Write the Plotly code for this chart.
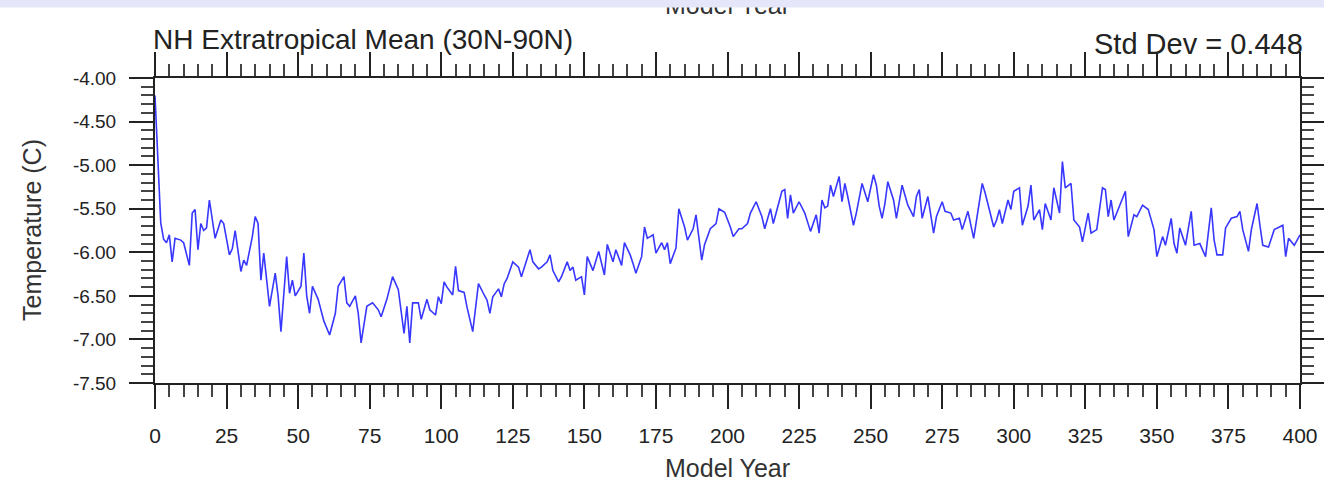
import plotly.graph_objects as go

# ---- data ----
years_a = [0, 1, 2, 3, 4, 5, 6, 7, 9, 10,
           11, 12, 13, 14, 15, 16, 17, 18, 19, 20,
           21, 23, 24, 26, 27, 28, 30, 31, 32, 34,
           35, 36, 37, 38, 39, 40, 42, 43, 44, 46,
           47, 48, 49, 51, 52, 53, 54, 55, 57, 59,
           61, 63, 64, 66, 67, 68, 70, 71, 72, 74,
           76, 78, 79, 81, 83, 85, 87, 88, 89, 90,
           92, 93, 95, 96, 98, 99]
temps_a = [-4.20, -4.86, -5.66, -5.85, -5.89, -5.80, -6.11, -5.84, -5.86, -5.89,
           -6.01, -6.15, -5.55, -5.51, -5.97, -5.67, -5.75, -5.72, -5.40, -5.63,
           -5.84, -5.63, -5.67, -6.03, -5.96, -5.75, -6.22, -6.09, -6.15, -5.82,
           -5.59, -5.67, -6.32, -6.01, -6.32, -6.62, -6.24, -6.50, -6.91, -6.05,
           -6.47, -6.32, -6.50, -6.39, -6.01, -6.50, -6.70, -6.39, -6.54, -6.79,
           -6.95, -6.70, -6.39, -6.28, -6.58, -6.62, -6.50, -6.70, -7.04, -6.62,
           -6.58, -6.66, -6.74, -6.54, -6.28, -6.43, -6.93, -6.62, -7.04, -6.58,
           -6.58, -6.77, -6.54, -6.66, -6.72, -6.51]

years_b = [100, 101, 102, 104, 105, 106, 108, 109, 111, 113,
           115, 116, 117, 118, 120, 121, 122, 123, 125, 127,
           128, 129, 131, 132, 134, 135, 137, 138, 139, 141,
           142, 144, 145, 146, 147, 149, 150, 151, 153, 155,
           156, 157, 158, 160, 161, 163, 164, 166, 167, 168,
           170, 171, 172, 174, 175, 177, 178, 179, 180, 182,
           183, 185, 186, 188, 189, 191, 192, 194, 196, 197,
           199]
temps_b = [-6.59, -6.34, -6.40, -6.49, -6.16, -6.44, -6.46, -6.63, -6.91, -6.36,
           -6.49, -6.55, -6.70, -6.51, -6.42, -6.51, -6.36, -6.30, -6.11, -6.17,
           -6.28, -6.17, -5.97, -6.11, -6.19, -6.17, -6.11, -6.03, -6.21, -6.34,
           -6.28, -6.11, -6.21, -6.17, -6.32, -6.28, -6.49, -6.05, -6.21, -5.99,
           -6.13, -6.26, -5.91, -6.11, -5.97, -6.15, -5.89, -6.03, -6.13, -6.24,
           -6.05, -5.71, -5.84, -5.80, -6.01, -5.89, -5.97, -5.89, -6.13, -5.95,
           -5.50, -5.71, -5.86, -5.73, -5.57, -6.09, -5.91, -5.73, -5.67, -5.50,
           -5.54]

years_c = [201, 202, 204, 205, 207, 208, 210, 212, 213, 215,
           216, 219, 220, 221, 222, 223, 225, 227, 229, 231,
           232, 233, 234, 235, 236, 237, 239, 240, 241, 242,
           244, 245, 247, 249, 251, 252, 253, 254, 255, 256,
           258, 259, 260, 261, 263, 265, 266, 267, 268, 270,
           272, 273, 275, 276, 278, 279, 281, 282, 284, 286,
           287, 289, 290, 293, 294, 295, 296, 298, 299]
temps_c = [-5.71, -5.82, -5.73, -5.73, -5.67, -5.55, -5.42, -5.59, -5.73, -5.50,
           -5.67, -5.30, -5.28, -5.61, -5.34, -5.55, -5.42, -5.55, -5.76, -5.57,
           -5.78, -5.40, -5.49, -5.47, -5.23, -5.36, -5.13, -5.42, -5.21, -5.36,
           -5.69, -5.55, -5.21, -5.42, -5.11, -5.23, -5.47, -5.61, -5.44, -5.19,
           -5.40, -5.61, -5.44, -5.23, -5.46, -5.59, -5.36, -5.28, -5.61, -5.36,
           -5.78, -5.59, -5.42, -5.53, -5.55, -5.63, -5.61, -5.74, -5.53, -5.84,
           -5.63, -5.21, -5.32, -5.71, -5.63, -5.51, -5.67, -5.40, -5.51]

years_d = [300, 302, 303, 305, 306, 307, 309, 310, 311, 313,
           314, 316, 317, 318, 320, 321, 323, 324, 326, 327,
           329, 331, 332, 333, 334, 335, 337, 339, 340, 342,
           343, 345, 347, 349, 350, 352, 353, 355, 356, 357,
           358, 360, 362, 363, 365, 367, 369, 370, 371, 373,
           374, 376, 378, 379, 380, 382, 383, 385, 386, 387,
           389, 391, 394, 395, 396, 398, 400]
temps_d = [-5.30, -5.26, -5.69, -5.47, -5.23, -5.63, -5.51, -5.74, -5.44, -5.63,
           -5.26, -5.55, -4.96, -5.26, -5.21, -5.63, -5.71, -5.88, -5.55, -5.78,
           -5.74, -5.26, -5.28, -5.59, -5.40, -5.63, -5.46, -5.30, -5.82, -5.57,
           -5.59, -5.46, -5.51, -5.74, -6.05, -5.82, -5.92, -5.61, -5.90, -6.01,
           -5.72, -5.92, -5.53, -5.92, -5.90, -6.05, -5.49, -5.86, -6.03, -6.03,
           -5.72, -5.61, -5.59, -5.53, -5.74, -5.99, -5.74, -5.44, -5.69, -5.92,
           -5.94, -5.74, -5.69, -6.05, -5.84, -5.92, -5.80]

x_tick_vals = [0, 25, 50, 75, 100, 125, 150, 175, 200, 225, 250, 275, 300, 325, 350, 375, 400]
x_tick_text = [str(v) for v in x_tick_vals]
y_tick_vals = [-4.0, -4.5, -5.0, -5.5, -6.0, -6.5, -7.0, -7.5]
y_tick_text = ["-4.00", "-4.50", "-5.00", "-5.50", "-6.00", "-6.50", "-7.00", "-7.50"]

title_text = "NH Extratropical Mean (30N-90N)"
stddev_text = "Std Dev = 0.448"
x_title = "Model Year"
y_title = "Temperature (C)"

years = years_a + years_b + years_c + years_d
temps = temps_a + temps_b + temps_c + temps_d
assert len(years) == len(temps)

# ---- figure geometry (pixels) ----
W, H = 1324, 488
ML, MR, MB = 155, 24, 105
PLOT_TOP = 78                     # top edge of the data frame
PW = W - ML - MR
PAPER_H = H - MB                  # paper spans page y 0 .. H-MB (top margin 0)
FONT = "Liberation Sans, Arial, Helvetica, sans-serif"
AX = "#222222"


def px_x(p):
    return (p - ML) / PW


def px_y(p):
    return (PAPER_H - p) / PAPER_H


fig = go.Figure()
fig.add_trace(go.Scatter(x=years, y=temps, mode="lines", xaxis="x", yaxis="y",
                         line=dict(color="rgb(55,55,255)", width=1.6),
                         hoverinfo="skip", showlegend=False))

# cut-off axis title of the panel above, partly hidden under the band at the top
fig.add_trace(go.Scatter(x=[200], y=[0.5], mode="text", xaxis="x2", yaxis="y2",
                         text=[x_title], textposition="middle center",
                         textfont=dict(family=FONT, size=25, color="#333333"),
                         hoverinfo="skip", showlegend=False))

axis_common = dict(showline=True, linecolor=AX, linewidth=2, mirror="allticks",
                   ticks="outside", ticklen=24, tickwidth=2, tickcolor=AX,
                   showgrid=False, zeroline=False, tickmode="array",
                   automargin=False, ticklabelstandoff=9)

fig.update_layout(
    xaxis=dict(range=[0, 400], tickvals=x_tick_vals, ticktext=x_tick_text,
               anchor="y", tickfont=dict(family=FONT, size=21, color="#222222"),
               minor=dict(tickmode="linear", tick0=0, dtick=5, ticks="outside",
                          ticklen=12, tickwidth=1.6, tickcolor="#444444"),
               **axis_common),
    yaxis=dict(range=[-7.5, -4.0], tickvals=y_tick_vals, ticktext=y_tick_text,
               domain=[0, px_y(PLOT_TOP)], anchor="x",
               tickfont=dict(family=FONT, size=19, color="#222222"),
               minor=dict(tickmode="linear", tick0=-7.5, dtick=0.1, ticks="outside",
                          ticklen=12, tickwidth=1.6, tickcolor="#444444"),
               **axis_common),
    xaxis2=dict(range=[0, 400], domain=[0, 1], anchor="y2", visible=False,
                fixedrange=True),
    yaxis2=dict(domain=[px_y(16), 1], range=[0, 1], anchor="x2", visible=False,
                fixedrange=True),
)

fig.update_layout(
    width=W, height=H, autosize=False,
    margin=dict(l=ML, r=MR, t=0, b=MB, pad=0, autoexpand=False),
    paper_bgcolor="white", plot_bgcolor="white",
    font=dict(family=FONT, color="#222222"),
    shapes=[dict(type="rect", xref="paper", yref="paper", layer="above",
                 x0=px_x(-5), x1=px_x(W + 5), y0=px_y(7.5), y1=px_y(-5),
                 fillcolor="#E6E6FA", line=dict(width=0))],
    annotations=[
        dict(text=title_text, xref="paper", yref="paper", x=px_x(151), y=px_y(40),
             xanchor="left", yanchor="middle", showarrow=False,
             font=dict(family=FONT, size=28, color="#222222")),
        dict(text=stddev_text, xref="paper", yref="paper", x=px_x(1305), y=px_y(44),
             xanchor="right", yanchor="middle", showarrow=False,
             font=dict(family=FONT, size=29, color="#222222")),
        dict(text=x_title, xref="paper", yref="paper", x=px_x(727), y=px_y(468),
             xanchor="center", yanchor="middle", showarrow=False,
             font=dict(family=FONT, size=25, color="#333333")),
        dict(text=y_title, xref="paper", yref="paper", x=px_x(32), y=px_y(230),
             xanchor="center", yanchor="middle", showarrow=False, textangle=-90,
             font=dict(family=FONT, size=25, color="#333333")),
    ],
)

fig.write_html("out.html", config={"displayModeBar": False},
               post_script="document.body.style.margin='0';")
